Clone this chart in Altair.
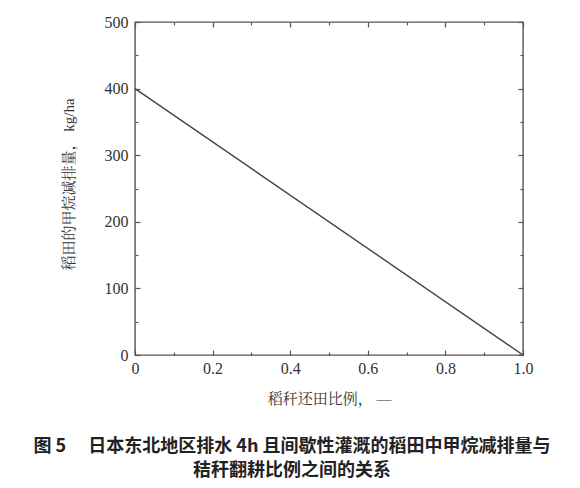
import altair as alt
import pandas as pd

# ---- data ----
ratio = [0.0, 1.0]
reduction = [400, 0]

x_tick_values = [0.0, 0.1, 0.2, 0.3, 0.4, 0.5, 0.6, 0.7, 0.8, 0.9, 1.0]
x_label_values = [0.0, 0.2, 0.4, 0.6, 0.8, 1.0]
y_tick_values = [0, 50, 100, 150, 200, 250, 300, 350, 400, 450, 500]
y_label_values = [0, 100, 200, 300, 400, 500]

x_title = "稻秆还田比例， —"
y_title = "稻田的甲烷减排量， kg/ha"
caption = [
    "图 5　 日本东北地区排水 4h 且间歇性灌溉的稻田中甲烷减排量与",
    "秸秆翻耕比例之间的关系",
]

df = pd.DataFrame({"ratio": ratio, "reduction": reduction})

W, H = 388, 333
SERIF = "Liberation Serif, Noto Serif CJK SC, Noto Sans CJK SC"
AX = "#555555"

xs = alt.Scale(domain=[0, 1], nice=False, zero=False)
ys = alt.Scale(domain=[0, 500], nice=False)

tick_x = {"condition": {"test": "round(datum.value * 10) % 2 === 0", "value": 5}, "value": 3}
tick_y = {"condition": {"test": "datum.value % 100 === 0", "value": 5}, "value": 3}

main = alt.Chart(df).mark_line(color="#444444", strokeWidth=1.4).encode(
    x=alt.X(
        "ratio:Q", scale=xs,
        axis=alt.Axis(
            orient="bottom", values=x_label_values, ticks=False, domain=False, grid=False,
            labelExpr="datum.value === 0 ? '0' : format(datum.value, '.1f')",
            labelFont="Liberation Serif", labelFontSize=16, labelColor="#333333",
            labelPadding=5, labelFlush=False, labelOverlap=False,
            title=x_title, titleFont=SERIF, titleFontSize=15, titleFontWeight="normal",
            titleColor="#333333", titleY=43, titleBaseline="middle",
        ),
    ),
    y=alt.Y(
        "reduction:Q", scale=ys,
        axis=alt.Axis(
            orient="left", values=y_label_values, ticks=False, domain=False, grid=False,
            labelFont="Liberation Serif", labelFontSize=16, labelColor="#333333",
            labelPadding=7, labelFlush=False, labelOverlap=False,
            title=y_title, titleFont=SERIF, titleFontSize=15, titleFontWeight="normal",
            titleColor="#333333", titleX=-67, titleY=162, titleBaseline="middle",
        ),
    ),
)

# inward ticks on the bottom and left edges
ticks_a = alt.Chart(df).mark_line(opacity=0).encode(
    x=alt.X("ratio:Q", scale=xs, axis=alt.Axis(
        orient="top", offset=-H, values=x_tick_values, labels=False, domain=False,
        grid=False, title="", tickSize=tick_x, tickColor=AX, tickWidth=1.2)),
    y=alt.Y("reduction:Q", scale=ys, axis=alt.Axis(
        orient="right", offset=-W, values=y_tick_values, labels=False, domain=False,
        grid=False, title="", tickSize=tick_y, tickColor=AX, tickWidth=1.2)),
)

# inward ticks on the top and right edges
ticks_b = alt.Chart(df).mark_line(opacity=0).encode(
    x=alt.X("ratio:Q", scale=xs, axis=alt.Axis(
        orient="bottom", offset=-H, values=x_tick_values, labels=False, domain=False,
        grid=False, title="", tickSize=tick_x, tickColor=AX, tickWidth=1.2)),
    y=alt.Y("reduction:Q", scale=ys, axis=alt.Axis(
        orient="left", offset=-W, values=y_tick_values, labels=False, domain=False,
        grid=False, title="", tickSize=tick_y, tickColor=AX, tickWidth=1.2)),
)

chart = alt.layer(main, ticks_a, ticks_b).resolve_axis(
    x="independent", y="independent"
).properties(
    width=W, height=H,
    autosize=alt.AutoSizeParams(type="none"),
    padding={"left": 127, "top": 14, "right": 49, "bottom": 125},
    title=alt.TitleParams(
        text=caption, orient="bottom", anchor="middle", dx=-37, offset=32,
        font="Noto Sans CJK SC", fontSize=18, fontWeight="bold", color="#222222",
        lineHeight=24,
    ),
).configure_view(
    stroke=AX, strokeWidth=1.4
)

chart.save("out.html", embed_options={"renderer": "svg", "actions": False})
